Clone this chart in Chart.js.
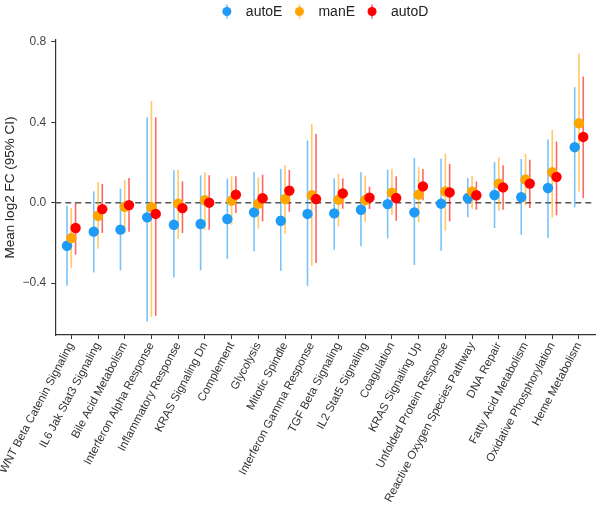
<!DOCTYPE html>
<html>
<head>
<meta charset="utf-8">
<script src="https://cdn.jsdelivr.net/npm/chart.js@4"></script>
<style>
  body { margin: 0; background: #fff; }
  #wrap { width: 602px; height: 519px; }
</style>
</head>
<body>
<div id="wrap"><canvas id="chart" width="602" height="519"></canvas></div>
<script>
const categories = [
    'WNT Beta Catenin Signaling', 'IL6 Jak Stat3 Signaling', 'Bile Acid Metabolism',
    'Interferon Alpha Response', 'Inflammatory Response', 'KRAS Signaling Dn',
    'Complement', 'Glycolysis', 'Mitotic Spindle', 'Interferon Gamma Response',
    'TGF Beta Signaling', 'IL2 Stat5 Signaling', 'Coagulation', 'KRAS Signaling Up',
    'Unfolded Protein Response', 'Reactive Oxygen Species Pathway', 'DNA Repair',
    'Fatty Acid Metabolism', 'Oxidative Phosphorylation', 'Heme Metabolism'
];
const seriesNames = ['autoE', 'manE', 'autoD'];

const autoE = [-0.214, -0.144, -0.134, -0.073, -0.110, -0.106, -0.081, -0.048, -0.090, -0.056, -0.053, -0.035, -0.007, -0.048, -0.005, 0.023, 0.038, 0.027, 0.073, 0.276];
const autoELo = [-0.413, -0.347, -0.337, -0.591, -0.372, -0.337, -0.279, -0.242, -0.339, -0.413, -0.234, -0.217, -0.178, -0.310, -0.239, -0.073, -0.126, -0.159, -0.176, -0.023];
const autoEHi = [-0.015, 0.056, 0.070, 0.425, 0.161, 0.136, 0.120, 0.151, 0.168, 0.309, 0.121, 0.151, 0.164, 0.222, 0.219, 0.123, 0.202, 0.217, 0.314, 0.574];

const manE = [-0.176, -0.065, -0.020, -0.023, -0.005, 0.012, 0.010, -0.005, 0.018, 0.037, 0.015, 0.013, 0.050, 0.040, 0.056, 0.055, 0.095, 0.115, 0.151, 0.395];
const manELo = [-0.325, -0.229, -0.151, -0.569, -0.181, -0.134, -0.110, -0.129, -0.154, -0.314, -0.118, -0.096, -0.061, -0.096, -0.139, -0.030, -0.040, -0.013, -0.073, 0.056];
const manEHi = [-0.027, 0.103, 0.113, 0.505, 0.164, 0.151, 0.131, 0.126, 0.188, 0.392, 0.143, 0.134, 0.169, 0.176, 0.244, 0.134, 0.226, 0.244, 0.363, 0.742];

const autoD = [-0.126, -0.032, -0.012, -0.056, -0.027, 0.000, 0.040, 0.022, 0.060, 0.018, 0.046, 0.025, 0.023, 0.081, 0.051, 0.037, 0.076, 0.095, 0.128, 0.327];
const autoDLo = [-0.259, -0.151, -0.144, -0.563, -0.151, -0.134, -0.051, -0.093, -0.045, -0.300, -0.030, -0.032, -0.090, 0.012, -0.093, -0.035, -0.035, -0.027, -0.063, 0.023];
const autoDHi = [0.000, 0.093, 0.123, 0.425, 0.106, 0.136, 0.131, 0.139, 0.163, 0.342, 0.121, 0.080, 0.131, 0.168, 0.193, 0.105, 0.186, 0.214, 0.304, 0.627];

const yTicks = [-0.4, 0.0, 0.4, 0.8];

const colors = ['#1E9BF7', '#FFA500', '#FF0000'];
const barColors = ['rgba(30,155,247,0.6)', 'rgba(255,165,0,0.6)', 'rgba(255,0,0,0.6)'];
const dodge = [-0.16, 0, 0.16];

const means = [autoE, manE, autoD];
const lows = [autoELo, manELo, autoDLo];
const highs = [autoEHi, manEHi, autoDHi];

const FONT = "'Liberation Sans', Arial, Helvetica, sans-serif";

// dashed zero line + confidence interval bars, under the points
const underlay = {
    id: 'underlay',
    beforeDatasetsDraw(chart) {
        const ctx = chart.ctx;
        const xs = chart.scales.x, ys = chart.scales.y;
        const area = chart.chartArea;
        ctx.save();
        ctx.strokeStyle = '#555';
        ctx.lineWidth = 1.5;
        ctx.setLineDash([6, 4]);
        const y0 = ys.getPixelForValue(0);
        ctx.beginPath();
        ctx.moveTo(area.left, y0);
        ctx.lineTo(area.right, y0);
        ctx.stroke();
        ctx.setLineDash([]);
        ctx.lineWidth = 1.6;
        for (let s = 0; s < 3; s++) {
            ctx.strokeStyle = barColors[s];
            for (let i = 0; i < categories.length; i++) {
                const x = xs.getPixelForValue(i + dodge[s]);
                ctx.beginPath();
                ctx.moveTo(x, ys.getPixelForValue(lows[s][i]));
                ctx.lineTo(x, ys.getPixelForValue(highs[s][i]));
                ctx.stroke();
            }
        }
        ctx.restore();
    }
};

// ggplot-like legend on top
const topLegend = {
    id: 'topLegend',
    afterDraw(chart) {
        const ctx = chart.ctx;
        const area = chart.chartArea;
        ctx.save();
        ctx.font = '14px ' + FONT;
        ctx.textBaseline = 'middle';
        const widths = seriesNames.map(n => ctx.measureText(n).width);
        const total = widths.reduce((a, w) => a + 19 + w, 0) + 17 * 2 + 5;
        let x = (area.left + area.right) / 2 - total / 2 + 5;
        const y = 11.5;
        seriesNames.forEach((name, s) => {
            ctx.strokeStyle = barColors[s];
            ctx.lineWidth = 1.6;
            ctx.beginPath();
            ctx.moveTo(x, y - 7);
            ctx.lineTo(x, y + 7);
            ctx.stroke();
            ctx.fillStyle = colors[s];
            ctx.beginPath();
            ctx.arc(x, y, 4.5, 0, Math.PI * 2);
            ctx.fill();
            ctx.fillStyle = '#222';
            ctx.fillText(name, x + 19, y + 1);
            x += 19 + widths[s] + 17;
        });
        ctx.restore();
    }
};

const datasets = seriesNames.map((name, s) => ({
    label: name,
    data: means[s].map((v, i) => ({ x: i + dodge[s], y: v })),
    backgroundColor: colors[s],
    borderWidth: 0,
    pointRadius: 5.2,
    pointHoverRadius: 5.2,
    order: 2 - s
}));

new Chart(document.getElementById('chart'), {
    type: 'scatter',
    data: { datasets: datasets },
    options: {
        responsive: false,
        animation: false,
        events: [],
        layout: { padding: { top: 40, right: 7, left: 0, bottom: 0 } },
        plugins: {
            legend: { display: false },
            tooltip: { enabled: false }
        },
        scales: {
            x: {
                type: 'linear',
                min: -0.6,
                max: categories.length - 0.4,
                afterBuildTicks(scale) {
                    scale.ticks = categories.map((c, i) => ({ value: i }));
                },
                afterFit(scale) { scale.height = 184; },
                ticks: {
                    autoSkip: false,
                    minRotation: 62,
                    maxRotation: 62,
                    padding: 1,
                    color: '#333',
                    font: { family: FONT, size: 11.5 },
                    callback: (v) => categories[v]
                },
                grid: { display: true, drawOnChartArea: false, tickLength: 4, color: '#333' },
                border: { display: true, color: '#333', width: 1.2 }
            },
            y: {
                min: -0.658,
                max: 0.809,
                afterBuildTicks(scale) {
                    scale.ticks = yTicks.map(v => ({ value: v }));
                },
                afterFit(scale) { scale.width = 53; },
                ticks: {
                    padding: 5,
                    color: '#444',
                    font: { family: FONT, size: 12 },
                    callback: (v) => (v < 0 ? '\u2212' : '') + Math.abs(v).toFixed(1)
                },
                title: {
                    display: true,
                    text: 'Mean log2 FC (95% CI)',
                    color: '#222',
                    font: { family: FONT, size: 13.5 },
                    padding: { top: 0, bottom: 2 }
                },
                grid: { display: true, drawOnChartArea: false, tickLength: 4, color: '#333' },
                border: { display: true, color: '#333', width: 1.2 }
            }
        }
    },
    plugins: [underlay, topLegend]
});
</script>
</body>
</html>
